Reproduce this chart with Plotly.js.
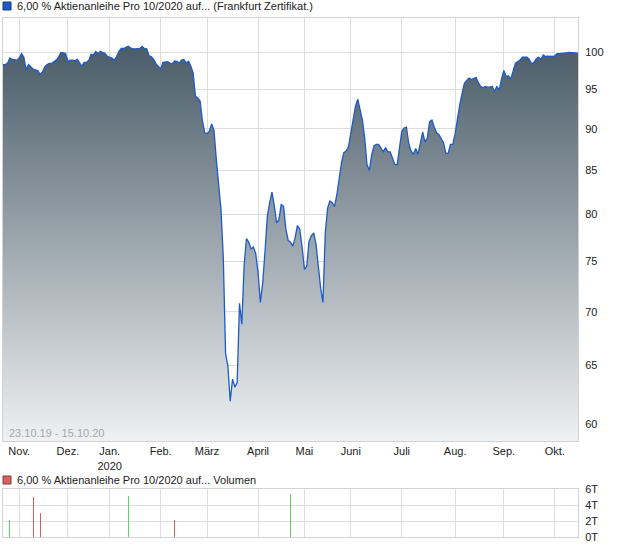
<!DOCTYPE html>
<html><head><meta charset="utf-8">
<script src="https://cdn.plot.ly/plotly-3.0.1.min.js"></script>
<style>html,body{margin:0;padding:0;background:#fff;}#chart{width:620px;height:546px;}</style>
</head><body><div id="chart"></div>
<script>
// ---- data ----
const startDate = '2019-10-23';
const endDate = '2020-10-15';
const holidays = ['2019-12-24','2019-12-25','2019-12-26','2019-12-31','2020-01-01','2020-04-10','2020-04-13','2020-05-01'];
const prices = [
 98.3, 98.3, 98.5, 99.2, 99.0, 98.9, 98.9, 99.2, 99.8, 99.3,
 97.6, 98.3, 98.0, 97.7, 97.6, 97.5, 97.0, 97.3, 98.0, 98.3,
 98.45, 98.45, 98.7, 98.9, 99.35, 99.95, 99.9, 99.8, 98.7, 98.9,
 98.9, 98.8, 99.0, 98.5, 98.1, 98.6, 98.6, 98.9, 99.7, 99.6,
 100.1, 99.8, 100.1, 99.95, 99.85, 99.4, 99.3, 99.2, 98.9, 99.4,
 100.1, 100.5, 100.5, 100.6, 100.8, 100.6, 100.45, 100.45, 100.45, 100.5,
 100.8, 100.5, 100.45, 99.5, 99.35, 99.0, 98.4, 98.0, 97.7, 98.6,
 98.6, 98.7, 98.5, 98.4, 98.8, 98.75, 98.5, 98.9, 99.0, 98.5,
 98.75, 98.1, 97.2, 94.1, 93.9, 93.5, 91.0, 89.5, 89.4, 89.7,
 90.6, 89.8, 86.3, 83.3, 80.6, 75.5, 66.1, 64.9, 61.9, 63.8,
 63.1, 63.5, 70.8, 68.8, 74.6, 77.4, 77.0, 76.3, 76.5, 75.8,
 73.9, 70.9, 72.8, 76.0, 79.8, 81.3, 82.5, 81.0, 79.1, 79.4,
 81.1, 80.9, 78.4, 77.2, 77.0, 76.6, 77.5, 78.8, 78.4, 76.5,
 74.2, 74.5, 77.1, 77.7, 78.0, 76.8, 74.2, 72.3, 70.9, 78.0,
 80.7, 81.5, 81.3, 80.9, 82.2, 84.2, 85.9, 87.1, 87.3, 87.8,
 89.5, 91.5, 92.8, 93.75, 92.6, 91.1, 88.85, 85.65, 85.0, 86.8,
 87.9, 88.1, 88.1, 87.6, 87.2, 87.7, 87.2, 87.2, 86.4, 85.7,
 85.65, 87.6, 89.7, 90.1, 90.2, 88.2, 87.3, 86.9, 87.6, 86.9,
 88.2, 89.6, 88.4, 88.85, 90.9, 91.1, 90.2, 89.5, 89.3, 88.7,
 88.3, 87.0, 87.0, 88.1, 88.1, 89.4, 91.4, 93.0, 94.5, 95.8,
 96.2, 96.5, 96.3, 96.5, 96.6, 95.9, 95.4, 95.2, 95.4, 95.3,
 95.3, 95.4, 94.7, 95.4, 94.9, 96.35, 97.5, 96.7, 96.8, 96.35,
 97.6, 98.5, 98.7, 98.9, 99.3, 99.3, 99.3, 99.0, 98.4, 98.6,
 99.1, 99.3, 99.0, 99.6, 99.4, 99.45, 99.4, 99.4, 99.5, 99.8,
 99.8, 99.8, 99.9, 99.9, 99.95, 99.95, 99.9, 99.85, 99.85
];
const monthTickDates = ['2019-11-01','2019-12-02','2020-01-02','2020-02-03','2020-03-02','2020-04-01','2020-05-04','2020-06-01','2020-07-01','2020-08-03','2020-09-01','2020-10-01'];
const monthTickLabels = ['Nov.','Dez.','Jan.<br>2020','Feb.','März','April','Mai','Juni','Juli','Aug.','Sep.','Okt.'];
const priceTicks = [60,65,70,75,80,85,90,95,100];
const volDates = ['2019-10-28','2019-11-11','2019-11-14','2020-01-14','2020-02-11','2020-04-23'];
const volValues = [2100,5000,3000,5100,2100,5400];
const volUp = [true,false,false,true,false,true];
const volTicks = [0,2000,4000,6000];
const volTickLabels = ['0T','2T','4T','6T'];
const titleMain = '6,00 % Aktienanleihe Pro 10/2020 auf... (Frankfurt Zertifikat.)';
const titleVol = '6,00 % Aktienanleihe Pro 10/2020 auf... Volumen';
const rangeText = '23.10.19 - 15.10.20';

// ---- trading-day calendar (x categories) ----
function tradingDays(s, e, hol) {
  const out = [];
  const d = new Date(s + 'T00:00:00Z');
  const end = new Date(e + 'T00:00:00Z');
  while (d <= end) {
    const iso = d.toISOString().slice(0,10);
    const wd = d.getUTCDay();
    if (wd !== 0 && wd !== 6 && hol.indexOf(iso) < 0) out.push(iso);
    d.setUTCDate(d.getUTCDate() + 1);
  }
  return out;
}
const dates = tradingDays(startDate, endDate, holidays);

// ---- geometry (pixels) ----
const W = 620, H = 546;
const M = {l:3, r:42, t:18, b:9};
const plotH = H - M.t - M.b;
const pw = W - M.l - M.r;
const py = y => (H - M.b - y) / plotH;   // pixel y -> paper y
const px = x => (x - M.l) / pw;          // pixel x -> paper x

const gridC = '#dddddd', lineC = '#d2d2d2';
const font = {family:'"Liberation Sans", Arial, sans-serif', size:11, color:'#222'};

const traces = [
  {
    x: dates, y: prices, type:'scatter', mode:'lines',
    line:{color:'#1e5bc6', width:1.3},
    fill:'tozeroy',
    fillgradient:{type:'vertical', start:58.6, stop:100.5,
      colorscale:[[0,'#eff1f3'],[1,'#4b5d69']]},
    xaxis:'x', yaxis:'y', hoverinfo:'skip'
  },
  {
    x: volDates, y: volValues, type:'bar', width:0.45,
    marker:{color: volUp.map(u => u ? '#5fd35f' : '#d35f5f'), line:{width:0}},
    xaxis:'x2', yaxis:'y2', hoverinfo:'skip'
  }
];

const xBase = {
  type:'category', categoryorder:'array', categoryarray:dates,
  range:[0, dates.length - 1],
  tickmode:'array', tickvals:monthTickDates, ticktext:monthTickLabels,
  showgrid:true, gridcolor:gridC, gridwidth:1,
  showline:true, mirror:true, linecolor:lineC, linewidth:1,
  ticks:'', zeroline:false, fixedrange:true
};

const layout = {
  width:W, height:H, margin:M,
  paper_bgcolor:'#fff', plot_bgcolor:'#fff',
  showlegend:false, font:font, bargap:0,
  xaxis: Object.assign({}, xBase, {anchor:'y', domain:[0,1]}),
  xaxis2: Object.assign({}, xBase, {anchor:'y2', domain:[0,1], showticklabels:false}),
  yaxis: {
    type:'log', side:'right', domain:[py(441), 1],
    range:[Math.log10(58.6), Math.log10(104.8)],
    tickmode:'array', tickvals:priceTicks, ticktext:priceTicks.map(String),
    showgrid:true, gridcolor:gridC, showline:true, mirror:true, linecolor:lineC,
    ticks:'', zeroline:false, ticklabelstandoff:4
  },
  yaxis2: {
    side:'right', domain:[0, py(489)], range:[0, 6000],
    tickmode:'array', tickvals:volTicks, ticktext:volTickLabels,
    showgrid:true, gridcolor:gridC, showline:true, mirror:true, linecolor:lineC,
    ticks:'', zeroline:false, ticklabelstandoff:4
  },
  shapes: [
    {type:'rect', xref:'paper', yref:'paper', x0:px(3), x1:px(11), y0:py(10), y1:py(2),
     fillcolor:'#1e5bc6', line:{color:'#1a3c7a', width:1}},
    {type:'rect', xref:'paper', yref:'paper', x0:px(3), x1:px(11), y0:py(484), y1:py(476),
     fillcolor:'#d9625f', line:{color:'#8a3a38', width:1}}
  ],
  annotations: [
    {text:titleMain, xref:'paper', yref:'paper', x:px(15), y:py(6), xanchor:'left', yanchor:'middle',
     showarrow:false, font:{family:font.family, size:11, color:'#222'}},
    {text:titleVol, xref:'paper', yref:'paper', x:px(15), y:py(480), xanchor:'left', yanchor:'middle',
     showarrow:false, font:{family:font.family, size:11, color:'#222'}},
    {text:rangeText, xref:'paper', yref:'paper', x:px(7), y:py(433), xanchor:'left', yanchor:'middle',
     showarrow:false, font:{family:font.family, size:11, color:'#a8a8a8'}}
  ]
};

Plotly.newPlot('chart', traces, layout, {staticPlot:true, displayModeBar:false});
</script>
</body></html>
